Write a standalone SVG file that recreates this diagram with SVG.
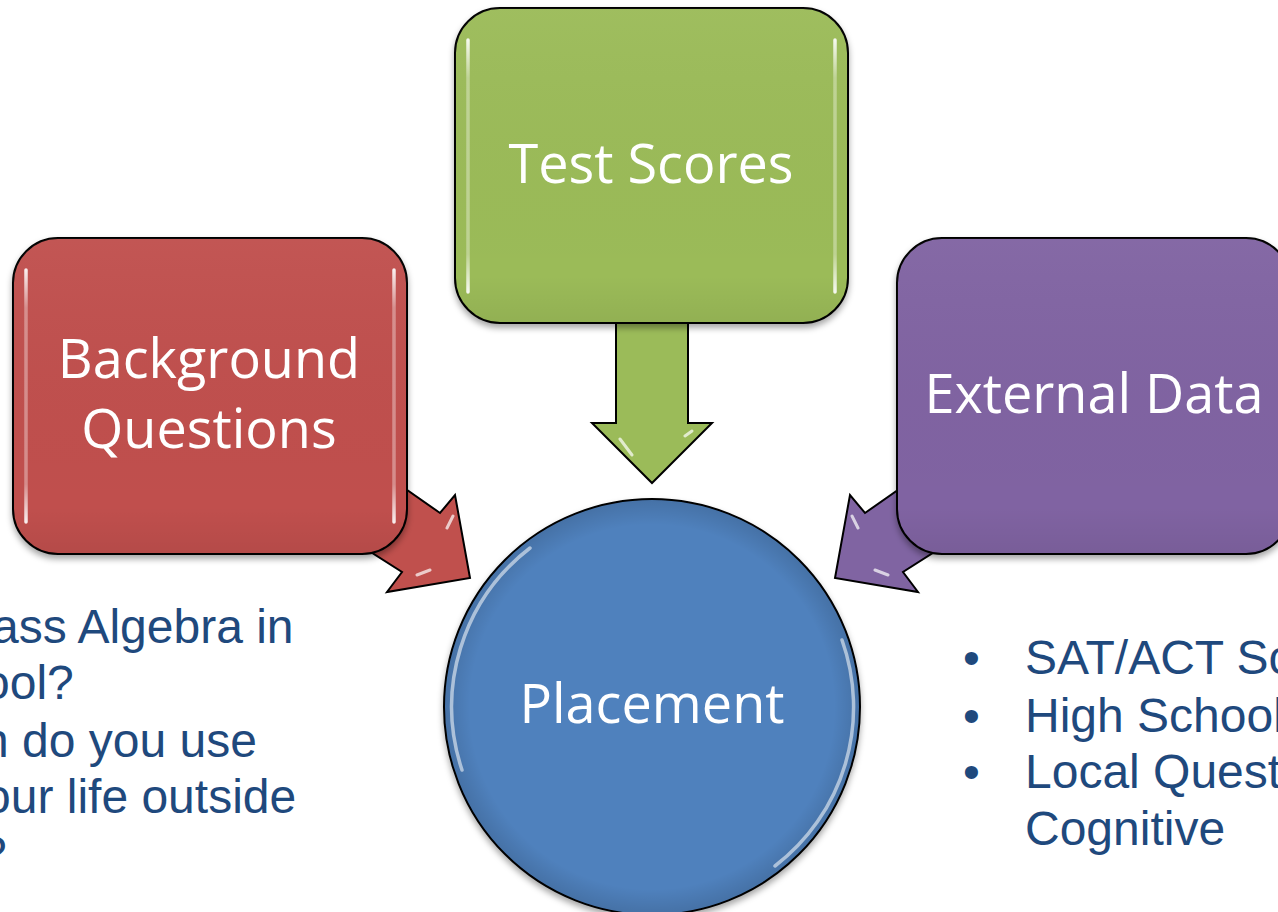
<svg xmlns="http://www.w3.org/2000/svg" width="1278" height="912" viewBox="0 0 1278 912">
  <defs>
    <filter id="shadow" x="-10%" y="-10%" width="120%" height="125%">
      <feDropShadow dx="0" dy="4" stdDeviation="3" flood-color="#000" flood-opacity="0.35"/>
    </filter>
    <linearGradient id="vhl" x1="0" y1="0" x2="0" y2="1">
      <stop offset="0" stop-color="#fff" stop-opacity="0.9"/>
      <stop offset="0.15" stop-color="#fff" stop-opacity="0.35"/>
      <stop offset="0.85" stop-color="#fff" stop-opacity="0.35"/>
      <stop offset="1" stop-color="#fff" stop-opacity="0.9"/>
    </linearGradient>
    <linearGradient id="shade" x1="0" y1="0" x2="0" y2="1">
      <stop offset="0" stop-color="#fff" stop-opacity="0.04"/>
      <stop offset="0.85" stop-color="#000" stop-opacity="0"/>
      <stop offset="1" stop-color="#000" stop-opacity="0.06"/>
    </linearGradient>
    <radialGradient id="circshade" cx="0.5" cy="0.5" r="0.5">
      <stop offset="0.88" stop-color="#000" stop-opacity="0"/>
      <stop offset="1" stop-color="#000" stop-opacity="0.12"/>
    </radialGradient>
  </defs>
  <style>
    .box { stroke: #000; stroke-width: 2; }
    .arrow { stroke: #000; stroke-width: 2; stroke-linejoin: miter; }
    .hl { fill: none; stroke: url(#vhl); stroke-width: 3.5; stroke-linecap: round; }
    .label { font-family: "Open Sans", "Noto Sans", sans-serif; font-size: 54px; fill: #fff; text-anchor: middle; }
    .body { font-family: "Liberation Sans", Arial, sans-serif; font-size: 48px; fill: #1F497D; }
    .red { fill: #C0504D; }
    .green { fill: #9BBB59; }
    .purple { fill: #8064A2; }
    .blue { fill: #4F81BD; }
    .spec { fill: none; stroke: #fff; stroke-opacity: 0.7; stroke-width: 3; stroke-linecap: round; }
  </style>

  <g id="connectors">
    <polygon class="arrow green" points="616,300 688,300 688,423 712,423 652,483 592,423 616,423"/>
    <polygon class="arrow red" points="360,457 440,513 455,495 470,578 387,592 402,572 330,526"/>
    <polygon class="arrow purple" points="945,457 865,513 850,495 835,578 918,592 903,572 975,526"/>
    <path class="spec" d="M620,439 L632,455 M685,436 L692,431 M453,516 L447,528 M417,575 L430,570 M852,516 L858,528 M888,575 L875,570"/>
  </g>

  <g id="node-test-scores">
    <rect class="box green" x="455" y="8" width="393" height="315" rx="45" filter="url(#shadow)"/>
    <rect x="455" y="8" width="393" height="315" rx="45" fill="url(#shade)"/>
    <path class="hl" d="M468,40 L468,292 M835,40 L835,292"/>
    <text class="label" x="651" y="183">Test Scores</text>
  </g>

  <g id="node-background">
    <rect class="box red" x="13" y="238" width="394" height="316" rx="45" filter="url(#shadow)"/>
    <rect x="13" y="238" width="394" height="316" rx="45" fill="url(#shade)"/>
    <path class="hl" d="M26,270 L26,522 M394,270 L394,522"/>
    <text class="label" x="209" y="378">Background</text>
    <text class="label" x="209" y="448">Questions</text>
  </g>

  <g id="node-external">
    <rect class="box purple" x="897" y="238" width="394" height="316" rx="45" filter="url(#shadow)"/>
    <rect x="897" y="238" width="394" height="316" rx="45" fill="url(#shade)"/>
    <path class="hl" d="M910,270 L910,522"/>
    <text class="label" x="1094" y="413">External Data</text>
  </g>

  <g id="node-placement">
    <circle class="box blue" cx="652" cy="707" r="208" filter="url(#shadow)"/>
    <circle cx="652" cy="707" r="207" fill="url(#circshade)"/>
    <path d="M462,770 A200,200 0 0 1 530,548" fill="none" stroke="#fff" stroke-opacity="0.55" stroke-width="3.5" stroke-linecap="round"/>
    <path d="M842,640 A200,200 0 0 1 775,866" fill="none" stroke="#fff" stroke-opacity="0.55" stroke-width="3.5" stroke-linecap="round"/>
    <text class="label" x="652" y="723">Placement</text>
  </g>

  <g id="text-left">
    <text class="body" x="-8" y="643">ass Algebra in</text>
    <text class="body" x="-17" y="699">ool?</text>
    <text class="body" x="-18" y="757">n do you use</text>
    <text class="body" x="-16" y="813">our life outside</text>
    <text class="body" x="-20" y="870">?</text>
  </g>

  <g id="text-right">
    <text class="body" x="963" y="674">•</text>
    <text class="body" x="1025" y="674">SAT/ACT Sc</text>
    <text class="body" x="963" y="732">•</text>
    <text class="body" x="1025" y="732">High School</text>
    <text class="body" x="963" y="788">•</text>
    <text class="body" x="1025" y="788">Local Quest</text>
    <text class="body" x="1025" y="845">Cognitive</text>
  </g>
</svg>
